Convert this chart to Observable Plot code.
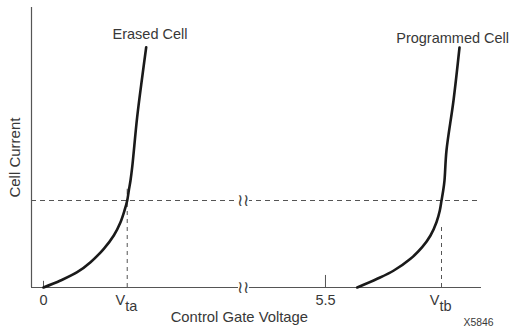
<!DOCTYPE html>
<html><head><meta charset="utf-8">
<script src="https://cdn.jsdelivr.net/npm/d3@7"></script>
<script src="https://cdn.jsdelivr.net/npm/@observablehq/plot@0.6"></script>
<style>body{margin:0;background:#fff}</style>
</head><body><div id="chart"></div>
<script>
// Schematic units: x = axis position (broken axis), y = relative cell current
const erasedX = [0, 0.332, 0.657, 0.917, 1.176, 1.371, 1.502, 1.580, 1.633, 1.664, 1.697, 1.730, 1.827, 1.925, 2.003];
const erasedY = [0, 0.25, 0.546, 0.904, 1.382, 1.857, 2.332, 2.75, 3.107, 3.464, 3.821, 4.296, 6.082, 7.51, 8.58];
const progX = [6.119, 6.509, 6.833, 7.158, 7.386, 7.548, 7.665, 7.730, 7.763, 7.796, 7.821, 7.860, 7.997, 8.114];
const progY = [0, 0.311, 0.607, 1.025, 1.439, 1.857, 2.332, 2.75, 3.107, 3.464, 3.821, 4.893, 6.679, 8.571];
const threshold = 3.107;
const vthNames = ["ta", "tb"];
const vthValues = [1.633, 7.763];
const vthDashTop = [3.107, 2.15];
const tickLabels = ["0", "5.5"];
const tickValues = [0, 5.5];
const breakX = 3.9;
const curveLabels = ["Erased Cell", "Programmed Cell"];
const curveLabelX = [2.077, 7.98];
const curveLabelY = [8.89, 8.75];

const erased = erasedX.map((x, i) => ({x, y: erasedY[i]}));
const prog = progX.map((x, i) => ({x, y: progY[i]}));
const vth = vthNames.map((n, i) => ({n, x: vthValues[i], top: vthDashTop[i]}));
const ticks = tickLabels.map((t, i) => ({t, x: tickValues[i]}));
const labels = curveLabels.map((t, i) => ({t, x: curveLabelX[i], y: curveLabelY[i]}));
const xDom = [-0.234, 8.543];
const font = "Liberation Sans, Arial, sans-serif";
const ink = "#383838";
const fs = 14.5;

const chart = Plot.plot({
  width: 513, height: 330,
  marginLeft: 31, marginRight: 32, marginTop: 7, marginBottom: 43,
  style: {fontFamily: font, background: "#fff", overflow: "visible"},
  x: {domain: xDom, axis: null},
  y: {domain: [0, 10], axis: null},
  marks: [
    Plot.ruleY([0], {x1: xDom[0], x2: xDom[1], stroke: "#555", strokeWidth: 1.2}),
    Plot.ruleX([xDom[0]], {y1: 0, y2: 10, stroke: "#555", strokeWidth: 1.2}),
    Plot.ruleY([threshold], {x1: xDom[0], x2: xDom[1], stroke: "#555", strokeWidth: 1, strokeDasharray: "5,4"}),
    Plot.ruleX(vth, {x: "x", y1: 0, y2: "top", stroke: "#555", strokeWidth: 1, strokeDasharray: "4,4"}),
    Plot.ruleX([0], {y1: 0, y2: 0.22, stroke: "#555"}),
    Plot.ruleX([5.5], {y1: 0, y2: 0.43, stroke: "#555"}),
    Plot.ruleX([vthValues[0]], {y1: threshold + 0.2, y2: threshold + 0.4, stroke: "#555"}),
    // axis break marks
    Plot.dot([0, threshold], {x: () => breakX, y: d => d, r: 5.5, fill: "#fff", stroke: "none"}),
    Plot.text([0, threshold], {x: () => breakX, y: d => d, text: () => "\u2240\u2240", fontSize: 17, fill: "#444", lineAnchor: "middle"}),
    Plot.line(erased, {x: "x", y: "y", curve: "catmull-rom", stroke: "#1a1a1a", strokeWidth: 2.6}),
    Plot.line(prog, {x: "x", y: "y", curve: "catmull-rom", stroke: "#1a1a1a", strokeWidth: 2.6}),
    Plot.text(labels, {x: "x", y: "y", text: "t", fontSize: fs, fill: ink, lineAnchor: "bottom"}),
    Plot.text(ticks, {x: "x", y: 0, text: "t", dy: 17, fontSize: fs, fill: ink, lineAnchor: "bottom"}),
    Plot.text(vth, {x: "x", y: 0, text: () => "V", dx: -2, dy: 17, fontSize: fs, fill: ink, lineAnchor: "bottom", textAnchor: "end"}),
    Plot.text(vth, {x: "x", y: 0, text: "n", dx: -2, dy: 23, fontSize: fs, fill: ink, lineAnchor: "bottom", textAnchor: "start"}),
    Plot.text(["Control Gate Voltage"], {x: 3.82, y: 0, dy: 34, fontSize: 14.8, fill: ink, lineAnchor: "bottom"}),
    Plot.text(["X5846"], {x: 8.485, y: 0, dy: 38, fontSize: 10.4, fill: ink, lineAnchor: "bottom"}),
    Plot.text(["Cell Current"], {x: xDom[0], y: 4.64, dx: -16, rotate: -90, fontSize: 15, fill: ink, lineAnchor: "middle"})
  ]
});
document.getElementById("chart").appendChild(chart);
</script>
</body></html>
